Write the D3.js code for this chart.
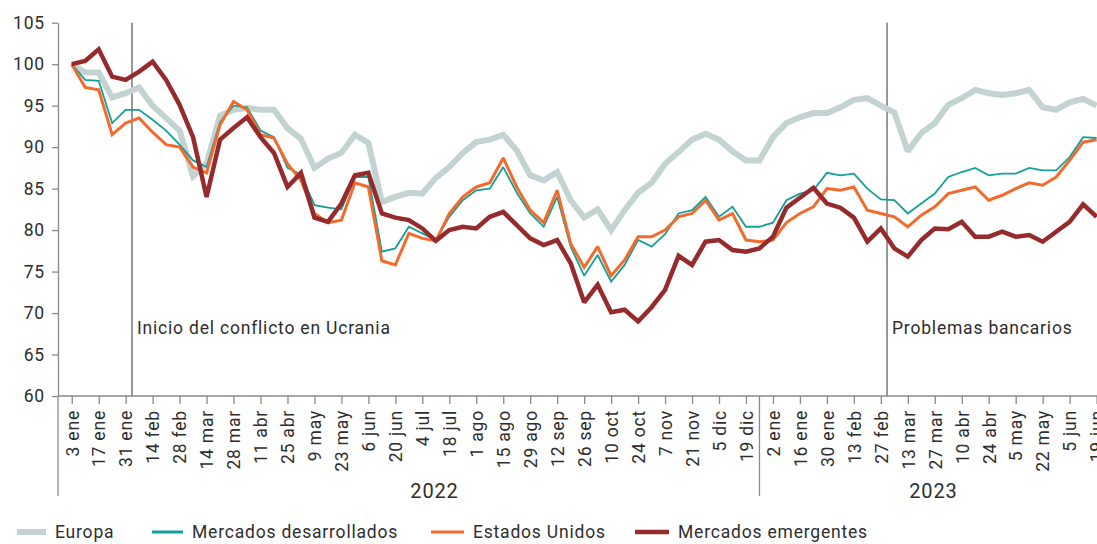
<!DOCTYPE html>
<html><head><meta charset="utf-8">
<script src="https://cdn.jsdelivr.net/npm/d3@7/dist/d3.min.js"></script>
<style>
html,body{margin:0;padding:0;background:#fff;}
svg text{font-family:Roboto,"Liberation Sans",sans-serif;fill:#2e2e2e;letter-spacing:0.8px;}
</style></head><body>
<svg id="chart" width="1097" height="544"></svg>
<script>
// ---- data (weekly readings, index 0 = 3 ene 2022) ----
const tickLabels = ["3 ene","17 ene","31 ene","14 feb","28 feb","14 mar","28 mar","11 abr","25 abr","9 may","23 may","6 jun","20 jun","4 jul","18 jul","1 ago","15 ago","29 ago","12 sep","26 sep","10 oct","24 oct","7 nov","21 nov","5 dic","19 dic","2 ene","16 ene","30 ene","13 feb","27 feb","13 mar","27 mar","10 abr","24 abr","5 may","22 may","5 jun","19 jun"];
const yTicks = [60,65,70,75,80,85,90,95,100,105];
const years = ["2022","2023"];
const yearLabelWeek = [26.9, 63.9];
const yearBreakWeek = [51];

const europa = [100,99,99,96,96.5,97.2,95,93.5,92,86.5,88,93.8,94.5,94.7,94.5,94.5,92.3,91,87.5,88.6,
89.3,91.5,90.5,83.4,84,84.5,84.4,86.3,87.6,89.3,90.6,90.9,91.5,89.6,86.6,86,87,83.6,81.5,82.5,
80,82.4,84.5,85.7,88,89.4,90.9,91.6,90.9,89.5,88.4,88.4,91.2,92.9,93.6,94.1,94.1,94.8,95.7,95.9,
95,94.2,89.5,91.7,92.9,95.1,95.9,96.9,96.5,96.3,96.5,96.9,94.8,94.5,95.4,95.8,95];

const desarrollados = [100,98.1,98,92.9,94.5,94.5,93.3,92,90.3,88.4,87.6,93,95,94.8,92,91.2,87.5,86.7,83,82.7,
82.5,86.4,86.4,77.4,77.8,80.4,79.6,78.8,81.6,83.6,84.8,85,87.6,84.5,82,80.4,84,78,74.5,77,
73.8,75.8,78.8,78,79.5,82,82.4,84,81.6,82.8,80.4,80.4,80.9,83.6,84.4,84.8,86.9,86.6,86.8,85,
83.7,83.6,82,83.2,84.4,86.4,87,87.5,86.6,86.8,86.8,87.5,87.2,87.2,88.8,91.2,91.1];

const estadosUnidos = [100,97.2,96.9,91.5,92.9,93.5,91.8,90.3,90,87.6,86.9,92.7,95.5,94.5,91.5,91.1,88,86,82,80.9,
81.2,85.7,85.2,76.3,75.8,79.6,79,78.7,82,84,85.2,85.7,88.7,85.2,82.4,80.9,84.8,78.4,75.5,78,
74.5,76.4,79.2,79.2,80,81.6,82,83.6,81.2,82,78.8,78.6,78.8,80.9,82,82.8,85,84.8,85.2,82.4,
82,81.6,80.4,81.8,82.8,84.4,84.8,85.2,83.6,84.2,85,85.7,85.4,86.4,88.4,90.6,90.9];

const emergentes = [100,100.4,101.8,98.5,98.1,99.1,100.3,98.1,95.1,91.2,84,90.9,92.3,93.6,91.2,89.3,85.2,86.9,81.5,81,
83.2,86.6,86.9,82,81.5,81.2,80.2,78.7,80,80.4,80.2,81.6,82.2,80.6,79,78.2,78.8,76,71.3,73.4,
70.1,70.4,69,70.7,72.8,76.9,75.8,78.6,78.8,77.6,77.4,77.8,79.2,82.7,83.9,85.1,83.2,82.7,81.5,78.6,
80.2,77.8,76.8,78.8,80.2,80.1,81,79.2,79.2,79.8,79.2,79.4,78.6,79.8,81,83.1,81.6];

const seriesNames = ["Europa","Mercados desarrollados","Estados Unidos","Mercados emergentes"];
const events = ["Inicio del conflicto en Ucrania","Problemas bancarios"];
const eventWeek = [4.47, 60.46];

// ---- styles ----
const styles = {
  "Europa": {color:"#c3d3d2", width:6},
  "Mercados desarrollados": {color:"#169e98", width:1.8},
  "Estados Unidos": {color:"#f36b2c", width:3},
  "Mercados emergentes": {color:"#952b2d", width:4.5}
};
const seriesData = {
  "Europa": europa,
  "Mercados desarrollados": desarrollados,
  "Estados Unidos": estadosUnidos,
  "Mercados emergentes": emergentes
};

const svg = d3.select("#chart");
const axisX0 = 58, plotBottom = 396, plotTop = 22.7;
const nWeeks = (tickLabels.length - 1) * 2;
const x = d3.scaleLinear().domain([0, nWeeks]).range([71.7, 1096.6]);
const y = d3.scaleLinear().domain([60,105]).range([plotBottom, plotTop]);

const gray = "#8a8a8a";

// y axis
const yAxis = svg.append("g").attr("transform",`translate(${axisX0},0)`)
  .call(d3.axisLeft(y).tickValues(yTicks).tickSize(6).tickPadding(7).tickSizeOuter(0));
yAxis.select(".domain").attr("stroke",gray).attr("stroke-width",1.3);
yAxis.selectAll(".tick line").attr("stroke",gray).attr("stroke-width",1.3);
yAxis.selectAll(".tick text").attr("font-size",17.5).style("font-family","Roboto, sans-serif");
// extension of y axis down to year band
svg.append("line").attr("x1",axisX0).attr("x2",axisX0).attr("y1",plotBottom).attr("y2",496)
  .attr("stroke",gray).attr("stroke-width",1.3);

// x axis
const xAxis = svg.append("g").attr("transform",`translate(0,${plotBottom})`)
  .call(d3.axisBottom(x).tickValues(tickLabels.map((d,i)=>i*2)).tickFormat(d=>tickLabels[d/2]).tickSize(8).tickSizeOuter(0));
xAxis.select(".domain").attr("d",`M${axisX0},0H1097`).attr("stroke",gray).attr("stroke-width",1.3);
xAxis.selectAll(".tick line").attr("stroke",gray).attr("stroke-width",1.3);
xAxis.selectAll(".tick text")
  .attr("font-size",17.5)
  .attr("text-anchor","end")
  .attr("transform","rotate(-90)")
  .attr("x",-14).attr("y",0).attr("dy","0.36em");

// year separators and labels
yearBreakWeek.forEach(w=>{
  svg.append("line").attr("x1",x(w)).attr("x2",x(w)).attr("y1",plotBottom).attr("y2",496)
    .attr("stroke",gray).attr("stroke-width",1.3);
});
svg.selectAll(".year").data(years).enter().append("text")
  .attr("class","year").attr("x",(d,i)=>x(yearLabelWeek[i])).attr("y",498)
  .attr("text-anchor","middle").attr("font-size",20).text(d=>d);

// event lines
events.forEach((ev,i)=>{
  const xe = x(eventWeek[i]);
  svg.append("line").attr("x1",xe).attr("x2",xe).attr("y1",plotTop).attr("y2",plotBottom)
    .attr("stroke","#6e6e6e").attr("stroke-width",1.4);
  svg.append("text").attr("x",xe+5).attr("y",334).attr("font-size",17.5).text(ev);
});

// lines
const line = d3.line().x((d,i)=>x(i)).y(d=>y(d)).curve(d3.curveLinear);
seriesNames.forEach(name=>{
  svg.append("path").datum(seriesData[name])
    .attr("fill","none").attr("stroke",styles[name].color)
    .attr("stroke-width",styles[name].width)
    .attr("stroke-linejoin","miter").attr("stroke-miterlimit",2)
    .attr("d",line);
});

// legend
const legendX = [17,152,431,635];
const legendW = [29,31,33,34];
const legend = svg.append("g").attr("transform","translate(0,532)");
seriesNames.forEach((name,i)=>{
  legend.append("line").attr("x1",legendX[i]).attr("x2",legendX[i]+legendW[i]).attr("y1",0).attr("y2",0)
    .attr("stroke",styles[name].color).attr("stroke-width",Math.max(styles[name].width,3));
  legend.append("text").attr("x",legendX[i]+legendW[i]+9).attr("y",0).attr("dy","0.36em")
    .attr("font-size",17.5).text(name);
});
</script>
</body></html>
